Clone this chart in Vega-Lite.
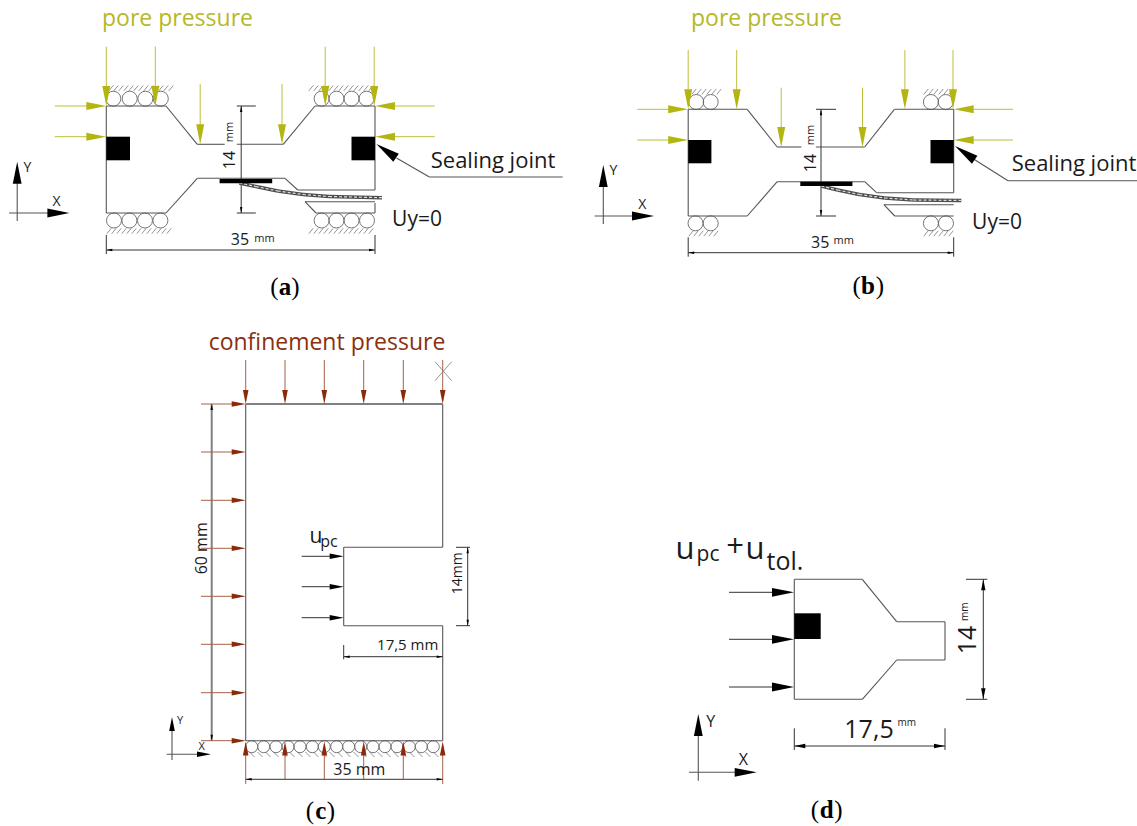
{"$schema":"https://vega.github.io/schema/vega-lite/v6.json","width":1137,"height":826,"padding":0,"autosize":"none","background":"white","view":{"stroke":null},
"datasets":{
"seg":[
{"x":106.3,"y":106,"x2":166,"y2":106,"k":"o"},{"x":166,"y":106,"x2":197.3,"y2":144.3,"k":"o"},{"x":197.3,"y":144.3,"x2":224.7,"y2":144.3,"k":"o"},{"x":236.8,"y":144.3,"x2":283.2,"y2":144.3,"k":"o"},{"x":283.2,"y":144.3,"x2":315,"y2":106,"k":"o"},{"x":315,"y":106,"x2":375,"y2":106,"k":"o"},{"x":375,"y":106,"x2":375,"y2":190,"k":"o"},{"x":375,"y":190,"x2":297.8,"y2":190,"k":"o"},{"x":297.8,"y":190,"x2":285,"y2":178.3,"k":"o"},{"x":285,"y":178.3,"x2":197.3,"y2":178.3,"k":"o"},{"x":197.3,"y":178.3,"x2":166,"y2":213,"k":"o"},{"x":166,"y":213,"x2":106.3,"y2":213,"k":"o"},{"x":106.3,"y":213,"x2":106.3,"y2":106,"k":"o"},{"x":305,"y":201.7,"x2":375,"y2":201.7,"k":"o"},{"x":305,"y":201.7,"x2":316,"y2":213,"k":"o"},{"x":316,"y":213,"x2":375,"y2":213,"k":"o"},{"x":375,"y":203,"x2":375,"y2":213,"k":"o"},
{"x":688.2,"y":109.3,"x2":747.2,"y2":109.3,"k":"o"},{"x":747.2,"y":109.3,"x2":777.2,"y2":147,"k":"o"},{"x":777.2,"y":147,"x2":801.4,"y2":147,"k":"o"},{"x":815.9,"y":147,"x2":864.7,"y2":147,"k":"o"},{"x":864.7,"y":147,"x2":894.4,"y2":109.3,"k":"o"},{"x":894.4,"y":109.3,"x2":953.7,"y2":109.3,"k":"o"},{"x":953.7,"y":109.3,"x2":953.7,"y2":192.7,"k":"o"},{"x":953.7,"y":192.7,"x2":876.6,"y2":192.7,"k":"o"},{"x":876.6,"y":192.7,"x2":864.7,"y2":181.7,"k":"o"},{"x":864.7,"y":181.7,"x2":777.2,"y2":181.7,"k":"o"},{"x":777.2,"y":181.7,"x2":747.2,"y2":216,"k":"o"},{"x":747.2,"y":216,"x2":688.2,"y2":216,"k":"o"},{"x":688.2,"y":216,"x2":688.2,"y2":109.3,"k":"o"},{"x":883.9,"y":204.7,"x2":953.7,"y2":204.7,"k":"o"},{"x":883.9,"y":204.7,"x2":894.7,"y2":216,"k":"o"},{"x":894.7,"y":216,"x2":953.7,"y2":216,"k":"o"},
{"x":245.7,"y":404,"x2":442.7,"y2":404,"k":"g"},{"x":442.7,"y":404,"x2":442.7,"y2":547.3,"k":"o"},{"x":442.7,"y":547.3,"x2":343.7,"y2":547.3,"k":"o"},{"x":343.7,"y":547.3,"x2":343.7,"y2":625.7,"k":"o"},{"x":343.7,"y":625.7,"x2":442.7,"y2":625.7,"k":"o"},{"x":442.7,"y":625.7,"x2":442.7,"y2":740.7,"k":"o"},{"x":442.7,"y":740.7,"x2":245.7,"y2":740.7,"k":"o"},{"x":245.7,"y":740.7,"x2":245.7,"y2":404,"k":"o"},
{"x":794.3,"y":579.3,"x2":862.3,"y2":579.3,"k":"o"},{"x":862.3,"y":579.3,"x2":896.7,"y2":621.7,"k":"o"},{"x":896.7,"y":621.7,"x2":945,"y2":621.7,"k":"o"},{"x":945,"y":621.7,"x2":945,"y2":660,"k":"o"},{"x":945,"y":660,"x2":896.7,"y2":660,"k":"o"},{"x":896.7,"y":660,"x2":862.3,"y2":699.3,"k":"o"},{"x":862.3,"y":699.3,"x2":794.3,"y2":699.3,"k":"o"},{"x":794.3,"y":699.3,"x2":794.3,"y2":579.3,"k":"o"},
{"x":106.3,"y":46.7,"x2":106.3,"y2":90,"k":"y"},{"x":155.3,"y":46.7,"x2":155.3,"y2":90,"k":"y"},{"x":325.2,"y":46.7,"x2":325.2,"y2":90,"k":"y"},{"x":374.2,"y":46.7,"x2":374.2,"y2":90,"k":"y"},{"x":200.2,"y":84,"x2":200.2,"y2":130,"k":"y"},{"x":282,"y":84,"x2":282,"y2":130,"k":"y"},{"x":54.8,"y":106,"x2":90,"y2":106,"k":"y"},{"x":54.8,"y":136.7,"x2":90,"y2":136.7,"k":"y"},{"x":434.8,"y":106,"x2":392,"y2":106,"k":"y"},{"x":434.8,"y":136.7,"x2":392,"y2":136.7,"k":"y"},
{"x":688.2,"y":50,"x2":688.2,"y2":93,"k":"y"},{"x":736.7,"y":50,"x2":736.7,"y2":93,"k":"y"},{"x":904.9,"y":50,"x2":904.9,"y2":93,"k":"y"},{"x":953,"y":50,"x2":953,"y2":93,"k":"y"},{"x":781.2,"y":87.7,"x2":781.2,"y2":130,"k":"y"},{"x":862.5,"y":87.7,"x2":862.5,"y2":130,"k":"y"},{"x":637.3,"y":109.3,"x2":672,"y2":109.3,"k":"y"},{"x":637.3,"y":140,"x2":672,"y2":140,"k":"y"},{"x":1013,"y":109.3,"x2":970,"y2":109.3,"k":"y"},{"x":1013,"y":140,"x2":970,"y2":140,"k":"y"},
{"x":245.7,"y":360,"x2":245.7,"y2":392,"k":"r"},{"x":285,"y":360,"x2":285,"y2":392,"k":"r"},{"x":324.3,"y":360,"x2":324.3,"y2":392,"k":"r"},{"x":363.7,"y":360,"x2":363.7,"y2":392,"k":"r"},{"x":403.3,"y":360,"x2":403.3,"y2":392,"k":"r"},{"x":442.7,"y":360,"x2":442.7,"y2":392,"k":"r"},
{"x":201,"y":404,"x2":234,"y2":404,"k":"r"},{"x":201,"y":452,"x2":234,"y2":452,"k":"r"},{"x":201,"y":500.3,"x2":234,"y2":500.3,"k":"r"},{"x":201,"y":548.3,"x2":234,"y2":548.3,"k":"r"},{"x":201,"y":596.3,"x2":234,"y2":596.3,"k":"r"},{"x":201,"y":644.3,"x2":234,"y2":644.3,"k":"r"},{"x":201,"y":692.7,"x2":234,"y2":692.7,"k":"r"},{"x":201,"y":740.7,"x2":234,"y2":740.7,"k":"r"},
{"x":245.7,"y":755,"x2":245.7,"y2":784,"k":"r"},{"x":285,"y":755,"x2":285,"y2":779,"k":"r"},{"x":324.3,"y":755,"x2":324.3,"y2":779,"k":"r"},{"x":363.7,"y":755,"x2":363.7,"y2":779,"k":"r"},{"x":403.3,"y":755,"x2":403.3,"y2":779,"k":"r"},{"x":442.7,"y":755,"x2":442.7,"y2":784,"k":"r"},
{"x":435,"y":361.7,"x2":451.7,"y2":380.7,"k":"x"},{"x":451.7,"y":361.7,"x2":435,"y2":380.7,"k":"x"},
{"x":241.2,"y":106,"x2":241.2,"y2":213,"k":"d"},{"x":236.8,"y":106,"x2":255.8,"y2":106,"k":"d"},{"x":236.8,"y":213,"x2":255.8,"y2":213,"k":"d"},
{"x":106.3,"y":250,"x2":375,"y2":250,"k":"d"},{"x":106.3,"y":235,"x2":106.3,"y2":254,"k":"d"},{"x":375,"y":235,"x2":375,"y2":254,"k":"d"},
{"x":821,"y":109.3,"x2":821,"y2":216,"k":"d"},{"x":816,"y":109.3,"x2":836,"y2":109.3,"k":"d"},{"x":816,"y":216,"x2":836,"y2":216,"k":"d"},
{"x":688.2,"y":252.7,"x2":953.7,"y2":252.7,"k":"d"},{"x":688.2,"y":237.3,"x2":688.2,"y2":256.7,"k":"d"},{"x":953.7,"y":237.3,"x2":953.7,"y2":256.7,"k":"d"},
{"x":211.7,"y":404,"x2":211.7,"y2":740.7,"k":"g"},{"x":245.7,"y":779.3,"x2":442.7,"y2":779.3,"k":"d"},
{"x":467.7,"y":547.3,"x2":467.7,"y2":625.7,"k":"d"},{"x":456,"y":547.3,"x2":470,"y2":547.3,"k":"d"},{"x":456,"y":625.7,"x2":470,"y2":625.7,"k":"d"},
{"x":343.7,"y":656.7,"x2":442.7,"y2":656.7,"k":"d"},{"x":343.7,"y":645,"x2":343.7,"y2":659.3,"k":"d"},
{"x":301.7,"y":556.3,"x2":330,"y2":556.3,"k":"d"},{"x":301.7,"y":586.7,"x2":330,"y2":586.7,"k":"d"},{"x":301.7,"y":617.7,"x2":330,"y2":617.7,"k":"d"},
{"x":729,"y":592.3,"x2":775,"y2":592.3,"k":"d"},{"x":729,"y":639.3,"x2":775,"y2":639.3,"k":"d"},{"x":729,"y":687,"x2":775,"y2":687,"k":"d"},
{"x":983.3,"y":579.3,"x2":983.3,"y2":699.3,"k":"d"},{"x":966,"y":579.3,"x2":987.3,"y2":579.3,"k":"d"},{"x":966,"y":699.3,"x2":987.3,"y2":699.3,"k":"d"},
{"x":794.3,"y":746,"x2":945,"y2":746,"k":"d"},{"x":794.3,"y":728.3,"x2":794.3,"y2":750,"k":"d"},{"x":945,"y":728.3,"x2":945,"y2":750,"k":"d"},
{"x":17.2,"y":175,"x2":17.2,"y2":221,"k":"o"},{"x":9,"y":213,"x2":55,"y2":213,"k":"o"},
{"x":603.3,"y":178,"x2":603.3,"y2":224,"k":"o"},{"x":594.6,"y":216,"x2":640,"y2":216,"k":"o"},
{"x":172,"y":725,"x2":172,"y2":760,"k":"o"},{"x":166.7,"y":754.3,"x2":200,"y2":754.3,"k":"o"},
{"x":698.3,"y":730,"x2":698.3,"y2":780.7,"k":"o"},{"x":689,"y":772.3,"x2":740,"y2":772.3,"k":"o"},
{"x":396.5,"y":158,"x2":429.4,"y2":177,"k":"o"},{"x":429.4,"y":177,"x2":562.7,"y2":177,"k":"o"},
{"x":972,"y":158,"x2":1008,"y2":180.7,"k":"o"},{"x":1008,"y":180.7,"x2":1137,"y2":180.7,"k":"o"}
],
"strip":[
{"x":239.3,"y":183,"x2":255.8,"y2":186.5},{"x":255.8,"y":186.5,"x2":277.7,"y2":191},{"x":277.7,"y":191,"x2":303,"y2":194.5},{"x":303,"y":194.5,"x2":329,"y2":196.5},{"x":329,"y":196.5,"x2":382,"y2":197.7},
{"x":821.3,"y":186,"x2":837.6,"y2":190},{"x":837.6,"y":190,"x2":859.3,"y2":194.5},{"x":859.3,"y":194.5,"x2":884.6,"y2":198},{"x":884.6,"y":198,"x2":913.5,"y2":200},{"x":913.5,"y":200,"x2":961.3,"y2":200.5}
],
"blocks":[
{"x":106.3,"y":136.7,"x2":130,"y2":160.3},{"x":351.5,"y":136.7,"x2":375,"y2":160.3},{"x":219.6,"y":179,"x2":272.2,"y2":183.3},
{"x":688.2,"y":140,"x2":711.4,"y2":163.3},{"x":930.5,"y":140,"x2":953.7,"y2":163.3},{"x":800.3,"y":181.7,"x2":852.4,"y2":186},
{"x":794.3,"y":613.3,"x2":820.7,"y2":639}
],
"circles":[
{"x":113.3,"y":98.7,"k":"l"},{"x":129.7,"y":98.7,"k":"l"},{"x":145.4,"y":98.7,"k":"l"},{"x":160.8,"y":98.7,"k":"l"},{"x":321.6,"y":98.7,"k":"l"},{"x":336.5,"y":98.7,"k":"l"},{"x":351.5,"y":98.7,"k":"l"},{"x":366.5,"y":98.7,"k":"l"},
{"x":114,"y":220.5,"k":"l"},{"x":129.4,"y":220.5,"k":"l"},{"x":145,"y":220.5,"k":"l"},{"x":160.4,"y":220.5,"k":"l"},{"x":321.6,"y":220.5,"k":"l"},{"x":336.5,"y":220.5,"k":"l"},{"x":351.5,"y":220.5,"k":"l"},{"x":367,"y":220.5,"k":"l"},
{"x":696.2,"y":102,"k":"l"},{"x":710.7,"y":102,"k":"l"},{"x":930.9,"y":102,"k":"l"},{"x":945.7,"y":102,"k":"l"},{"x":695.5,"y":223.3,"k":"l"},{"x":710.7,"y":223.3,"k":"l"},{"x":930.9,"y":223.3,"k":"l"},{"x":946,"y":223.3,"k":"l"},
{"x":251.7,"y":746.7,"k":"s"},{"x":263.7,"y":746.7,"k":"s"},{"x":276,"y":746.7,"k":"s"},{"x":288,"y":746.7,"k":"s"},{"x":300,"y":746.7,"k":"s"},{"x":312.3,"y":746.7,"k":"s"},{"x":324.3,"y":746.7,"k":"s"},{"x":336.7,"y":746.7,"k":"s"},{"x":348.7,"y":746.7,"k":"s"},{"x":360.7,"y":746.7,"k":"s"},{"x":373,"y":746.7,"k":"s"},{"x":385,"y":746.7,"k":"s"},{"x":397,"y":746.7,"k":"s"},{"x":409.3,"y":746.7,"k":"s"},{"x":421.3,"y":746.7,"k":"s"},{"x":433.3,"y":746.7,"k":"s"}
],
"hatchA":[
{"x":111,"y":88.2},{"x":116,"y":88.2},{"x":121,"y":88.2},{"x":126,"y":88.2},{"x":131,"y":88.2},{"x":136,"y":88.2},{"x":141,"y":88.2},{"x":146,"y":88.2},{"x":151,"y":88.2},{"x":156,"y":88.2},{"x":161,"y":88.2},{"x":166,"y":88.2},{"x":171,"y":88.2},
{"x":311,"y":88.2},{"x":316,"y":88.2},{"x":321,"y":88.2},{"x":326,"y":88.2},{"x":331,"y":88.2},{"x":336,"y":88.2},{"x":341,"y":88.2},{"x":346,"y":88.2},{"x":351,"y":88.2},{"x":356,"y":88.2},{"x":361,"y":88.2},{"x":366,"y":88.2},{"x":371,"y":88.2},
{"x":109,"y":231},{"x":114,"y":231},{"x":119,"y":231},{"x":124,"y":231},{"x":129,"y":231},{"x":134,"y":231},{"x":139,"y":231},{"x":144,"y":231},{"x":149,"y":231},{"x":154,"y":231},{"x":159,"y":231},{"x":164,"y":231},{"x":169,"y":231},
{"x":311,"y":231},{"x":316,"y":231},{"x":321,"y":231},{"x":326,"y":231},{"x":331,"y":231},{"x":336,"y":231},{"x":341,"y":231},{"x":346,"y":231},{"x":351,"y":231},{"x":356,"y":231},{"x":361,"y":231},{"x":366,"y":231},{"x":371,"y":231},
{"x":694,"y":91.7},{"x":699,"y":91.7},{"x":704,"y":91.7},{"x":709,"y":91.7},{"x":714,"y":91.7},{"x":719,"y":91.7},{"x":926,"y":91.7},{"x":931,"y":91.7},{"x":936,"y":91.7},{"x":941,"y":91.7},{"x":946,"y":91.7},{"x":951,"y":91.7},
{"x":691,"y":233.5},{"x":696,"y":233.5},{"x":701,"y":233.5},{"x":706,"y":233.5},{"x":711,"y":233.5},{"x":716,"y":233.5},{"x":926,"y":233.5},{"x":931,"y":233.5},{"x":936,"y":233.5},{"x":941,"y":233.5},{"x":946,"y":233.5},{"x":951,"y":233.5}
],
"hatchC":[
{"x":252,"y":754.5},{"x":260,"y":754.5},{"x":268,"y":754.5},{"x":276,"y":754.5},{"x":284,"y":754.5},{"x":292,"y":754.5},{"x":300,"y":754.5},{"x":308,"y":754.5},{"x":316,"y":754.5},{"x":324,"y":754.5},{"x":332,"y":754.5},{"x":340,"y":754.5},{"x":348,"y":754.5},{"x":356,"y":754.5},{"x":364,"y":754.5},{"x":372,"y":754.5},{"x":380,"y":754.5},{"x":388,"y":754.5},{"x":396,"y":754.5},{"x":404,"y":754.5},{"x":412,"y":754.5},{"x":420,"y":754.5},{"x":428,"y":754.5},{"x":436,"y":754.5}
],
"arrows":[
{"x":106.3,"y":106,"a":0,"k":"y"},{"x":155.3,"y":106,"a":0,"k":"y"},{"x":325.2,"y":106,"a":0,"k":"y"},{"x":374.2,"y":106,"a":0,"k":"y"},{"x":200.2,"y":144.3,"a":0,"k":"y"},{"x":282,"y":144.3,"a":0,"k":"y"},{"x":106.3,"y":106,"a":270,"k":"y"},{"x":106.3,"y":136.7,"a":270,"k":"y"},{"x":375,"y":106,"a":90,"k":"y"},{"x":375,"y":136.7,"a":90,"k":"y"},
{"x":688.2,"y":109.3,"a":0,"k":"y"},{"x":736.7,"y":109.3,"a":0,"k":"y"},{"x":904.9,"y":109.3,"a":0,"k":"y"},{"x":953,"y":109.3,"a":0,"k":"y"},{"x":781.2,"y":147,"a":0,"k":"y"},{"x":862.5,"y":147,"a":0,"k":"y"},{"x":688.2,"y":109.3,"a":270,"k":"y"},{"x":688.2,"y":140,"a":270,"k":"y"},{"x":953.7,"y":109.3,"a":90,"k":"y"},{"x":953.7,"y":140,"a":90,"k":"y"},
{"x":245.7,"y":404,"a":0,"k":"r"},{"x":285,"y":404,"a":0,"k":"r"},{"x":324.3,"y":404,"a":0,"k":"r"},{"x":363.7,"y":404,"a":0,"k":"r"},{"x":403.3,"y":404,"a":0,"k":"r"},{"x":442.7,"y":404,"a":0,"k":"r"},
{"x":245.7,"y":404,"a":270,"k":"r"},{"x":245.7,"y":452,"a":270,"k":"r"},{"x":245.7,"y":500.3,"a":270,"k":"r"},{"x":245.7,"y":548.3,"a":270,"k":"r"},{"x":245.7,"y":596.3,"a":270,"k":"r"},{"x":245.7,"y":644.3,"a":270,"k":"r"},{"x":245.7,"y":692.7,"a":270,"k":"r"},{"x":245.7,"y":740.7,"a":270,"k":"r"},
{"x":245.7,"y":741.5,"a":180,"k":"r"},{"x":285,"y":741.5,"a":180,"k":"r"},{"x":324.3,"y":741.5,"a":180,"k":"r"},{"x":363.7,"y":741.5,"a":180,"k":"r"},{"x":403.3,"y":741.5,"a":180,"k":"r"},{"x":442.7,"y":741.5,"a":180,"k":"r"},
{"x":343.7,"y":556.3,"a":270,"k":"c"},{"x":343.7,"y":586.7,"a":270,"k":"c"},{"x":343.7,"y":617.7,"a":270,"k":"c"},
{"x":794,"y":592.3,"a":270,"k":"ax"},{"x":794,"y":639.3,"a":270,"k":"ax"},{"x":794,"y":687,"a":270,"k":"ax"},
{"x":17.2,"y":161.7,"a":180,"k":"ax"},{"x":69.4,"y":213,"a":270,"k":"ax"},{"x":603.3,"y":165,"a":180,"k":"ax"},{"x":654,"y":216,"a":270,"k":"ax"},
{"x":172,"y":717,"a":180,"k":"c"},{"x":211,"y":754.3,"a":270,"k":"c"},{"x":698.3,"y":714,"a":180,"k":"ax"},{"x":756.7,"y":772.3,"a":270,"k":"ax"},
{"x":376.4,"y":144,"a":125,"k":"j"},{"x":955,"y":146,"a":125,"k":"j"},
{"x":241.2,"y":106,"a":180,"k":"s"},{"x":241.2,"y":213,"a":0,"k":"s"},{"x":106.3,"y":250,"a":90,"k":"s"},{"x":375,"y":250,"a":270,"k":"s"},
{"x":821,"y":109.3,"a":180,"k":"s"},{"x":821,"y":216,"a":0,"k":"s"},{"x":688.2,"y":252.7,"a":90,"k":"s"},{"x":953.7,"y":252.7,"a":270,"k":"s"},
{"x":211.7,"y":404,"a":180,"k":"s"},{"x":211.7,"y":740.7,"a":0,"k":"s"},{"x":245.7,"y":779.3,"a":90,"k":"s"},{"x":442.7,"y":779.3,"a":270,"k":"s"},
{"x":467.7,"y":547.3,"a":180,"k":"s"},{"x":467.7,"y":625.7,"a":0,"k":"s"},{"x":343.7,"y":656.7,"a":90,"k":"s"},{"x":442.7,"y":656.7,"a":270,"k":"s"},
{"x":983.3,"y":579.3,"a":180,"k":"m"},{"x":983.3,"y":699.3,"a":0,"k":"m"},{"x":794.3,"y":746,"a":90,"k":"m"},{"x":945,"y":746,"a":270,"k":"m"}
],
"texts":[
{"t":"Sealing joint","x":493,"y":161,"a":0,"k":"t22"},{"t":"Uy=0","x":417,"y":220,"a":0,"k":"t21"},{"t":"35","x":240,"y":239.5,"a":0,"k":"t15"},{"t":"mm","x":264.5,"y":239,"a":0,"k":"t11"},{"t":"14","x":230,"y":160,"a":270,"k":"t15"},{"t":"mm","x":230,"y":132,"a":270,"k":"t11"},
{"t":"Sealing joint","x":1074,"y":164,"a":0,"k":"t22"},{"t":"Uy=0","x":997,"y":223,"a":0,"k":"t21"},{"t":"35","x":820.2,"y":242.7,"a":0,"k":"t15"},{"t":"mm","x":843.7,"y":241,"a":0,"k":"t11"},{"t":"14","x":810.5,"y":163,"a":270,"k":"t15"},{"t":"mm","x":810.5,"y":135,"a":270,"k":"t11"},
{"t":"Y","x":27.4,"y":168.3,"a":0,"k":"t14"},{"t":"X","x":56.6,"y":201.7,"a":0,"k":"t14"},{"t":"Y","x":613.4,"y":171,"a":0,"k":"t14"},{"t":"X","x":642.4,"y":205,"a":0,"k":"t14"},
{"t":"60 mm","x":201.7,"y":548.3,"a":270,"k":"t15"},{"t":"35 mm","x":359.3,"y":770,"a":0,"k":"t15"},{"t":"14mm","x":458.3,"y":573.3,"a":270,"k":"t14"},{"t":"17,5 mm","x":407.7,"y":645,"a":0,"k":"t16"},
{"t":"u","x":316,"y":536.7,"a":0,"k":"t21"},{"t":"pc","x":329,"y":541.7,"a":0,"k":"t15"},{"t":"Y","x":180,"y":720.7,"a":0,"k":"t11"},{"t":"X","x":201.7,"y":746.7,"a":0,"k":"t11"},
{"t":"u","x":685,"y":550,"a":0,"k":"t32"},{"t":"pc","x":708,"y":555,"a":0,"k":"t21"},{"t":"+","x":735,"y":548,"a":0,"k":"t32"},{"t":"u","x":755,"y":550,"a":0,"k":"t32"},{"t":"tol.","x":785,"y":561.7,"a":0,"k":"t24"},
{"t":"17,5","x":869,"y":730,"a":0,"k":"t24"},{"t":"mm","x":906.7,"y":722.7,"a":0,"k":"t10"},{"t":"14","x":968.3,"y":640,"a":270,"k":"t24"},{"t":"mm","x":965,"y":611.7,"a":270,"k":"t10"},{"t":"Y","x":710.7,"y":721.7,"a":0,"k":"t15"},{"t":"X","x":743.3,"y":760,"a":0,"k":"t15"}
],
"pore":[{"t":"pore pressure","x":177.5,"y":19.3},{"t":"pore pressure","x":766.5,"y":19}],
"conf":[{"t":"confinement pressure","x":327,"y":343.3}],
"parens":[{"t":"(","x":274.5,"y":287},{"t":")","x":295.5,"y":287},{"t":"(","x":856.6,"y":286},{"t":")","x":880,"y":286},{"t":"(","x":310,"y":810.7},{"t":")","x":331,"y":810.7},{"t":"(","x":815,"y":810},{"t":")","x":838.5,"y":810}],
"letters":[{"t":"a","x":285,"y":287},{"t":"b","x":868,"y":286},{"t":"c","x":320.7,"y":810.7},{"t":"d","x":826.7,"y":810}]
},
"encoding":{
"x":{"field":"x","type":"quantitative","axis":null,"scale":{"domain":[0,1137],"nice":false,"zero":false}},
"y":{"field":"y","type":"quantitative","axis":null,"scale":{"domain":[826,0],"nice":false,"zero":false}}
},
"layer":[
{"data":{"name":"hatchA"},"mark":{"type":"point","shape":"M-2.2,2.7L2.2,-2.7","size":4,"filled":false,"stroke":"#666666","strokeWidth":0.7,"opacity":1}},
{"data":{"name":"hatchC"},"mark":{"type":"point","shape":"M-2.5,-2.5L2.5,2.5","size":4,"filled":false,"stroke":"#666666","strokeWidth":0.7,"opacity":1}},
{"data":{"name":"circles"},"transform":[{"filter":{"field":"k","equal":"l"}}],"mark":{"type":"point","shape":"circle","filled":false,"stroke":"#666666","strokeWidth":0.9,"opacity":1,"size":225}},
{"data":{"name":"circles"},"transform":[{"filter":{"field":"k","equal":"s"}}],"mark":{"type":"point","shape":"circle","filled":false,"stroke":"#666666","strokeWidth":0.9,"opacity":1,"size":144}},
{"data":{"name":"seg"},"transform":[{"filter":{"field":"k","equal":"o"}}],"mark":{"type":"rule","stroke":"#555555","strokeWidth":1.1},"encoding":{"x2":{"field":"x2"},"y2":{"field":"y2"}}},
{"data":{"name":"seg"},"transform":[{"filter":{"field":"k","equal":"g"}}],"mark":{"type":"rule","stroke":"#808080","strokeWidth":2},"encoding":{"x2":{"field":"x2"},"y2":{"field":"y2"}}},
{"data":{"name":"seg"},"transform":[{"filter":{"field":"k","equal":"y"}}],"mark":{"type":"rule","stroke":"#bcbf3a","strokeWidth":1},"encoding":{"x2":{"field":"x2"},"y2":{"field":"y2"}}},
{"data":{"name":"seg"},"transform":[{"filter":{"field":"k","equal":"r"}}],"mark":{"type":"rule","stroke":"#a5604a","strokeWidth":1},"encoding":{"x2":{"field":"x2"},"y2":{"field":"y2"}}},
{"data":{"name":"seg"},"transform":[{"filter":{"field":"k","equal":"d"}}],"mark":{"type":"rule","stroke":"#333333","strokeWidth":1},"encoding":{"x2":{"field":"x2"},"y2":{"field":"y2"}}},
{"data":{"name":"seg"},"transform":[{"filter":{"field":"k","equal":"x"}}],"mark":{"type":"rule","stroke":"#777777","strokeWidth":0.8},"encoding":{"x2":{"field":"x2"},"y2":{"field":"y2"}}},
{"data":{"name":"strip"},"mark":{"type":"rule","stroke":"#4d4d4d","strokeWidth":3.4},"encoding":{"x2":{"field":"x2"},"y2":{"field":"y2"}}},
{"data":{"name":"strip"},"mark":{"type":"rule","stroke":"#dddddd","strokeWidth":1.2,"strokeDash":[3,2]},"encoding":{"x2":{"field":"x2"},"y2":{"field":"y2"}}},
{"data":{"name":"blocks"},"mark":{"type":"rect","fill":"#000000"},"encoding":{"x2":{"field":"x2"},"y2":{"field":"y2"}}},
{"data":{"name":"arrows"},"transform":[{"filter":{"field":"k","equal":"y"}}],"mark":{"type":"point","shape":"M0,0L-0.2,-1L0.2,-1Z","filled":true,"opacity":1,"fill":"#b3b612","size":1600},"encoding":{"angle":{"field":"a","type":"quantitative","scale":null}}},
{"data":{"name":"arrows"},"transform":[{"filter":{"field":"k","equal":"r"}}],"mark":{"type":"point","shape":"M0,0L-0.2,-1L0.2,-1Z","filled":true,"opacity":1,"fill":"#8a2a08","size":784},"encoding":{"angle":{"field":"a","type":"quantitative","scale":null}}},
{"data":{"name":"arrows"},"transform":[{"filter":{"field":"k","equal":"c"}}],"mark":{"type":"point","shape":"M0,0L-0.2,-1L0.2,-1Z","filled":true,"opacity":1,"fill":"#000000","size":784},"encoding":{"angle":{"field":"a","type":"quantitative","scale":null}}},
{"data":{"name":"arrows"},"transform":[{"filter":{"field":"k","equal":"ax"}}],"mark":{"type":"point","shape":"M0,0L-0.2,-1L0.2,-1Z","filled":true,"opacity":1,"fill":"#000000","size":1936},"encoding":{"angle":{"field":"a","type":"quantitative","scale":null}}},
{"data":{"name":"arrows"},"transform":[{"filter":{"field":"k","equal":"j"}}],"mark":{"type":"point","shape":"M0,0L-0.2,-1L0.2,-1Z","filled":true,"opacity":1,"fill":"#000000","size":2304},"encoding":{"angle":{"field":"a","type":"quantitative","scale":null}}},
{"data":{"name":"arrows"},"transform":[{"filter":{"field":"k","equal":"s"}}],"mark":{"type":"point","shape":"M0,0L-0.2,-1L0.2,-1Z","filled":true,"opacity":1,"fill":"#000000","size":144},"encoding":{"angle":{"field":"a","type":"quantitative","scale":null}}},
{"data":{"name":"arrows"},"transform":[{"filter":{"field":"k","equal":"m"}}],"mark":{"type":"point","shape":"M0,0L-0.2,-1L0.2,-1Z","filled":true,"opacity":1,"fill":"#000000","size":484},"encoding":{"angle":{"field":"a","type":"quantitative","scale":null}}},
{"data":{"name":"texts"},"transform":[{"filter":{"field":"k","equal":"t10"}}],"mark":{"type":"text","font":"Open Sans","color":"#1a1a1a","align":"center","baseline":"middle","fontSize":10},"encoding":{"text":{"field":"t"},"angle":{"field":"a","type":"quantitative","scale":null}}},
{"data":{"name":"texts"},"transform":[{"filter":{"field":"k","equal":"t11"}}],"mark":{"type":"text","font":"Open Sans","color":"#1a1a1a","align":"center","baseline":"middle","fontSize":11},"encoding":{"text":{"field":"t"},"angle":{"field":"a","type":"quantitative","scale":null}}},
{"data":{"name":"texts"},"transform":[{"filter":{"field":"k","equal":"t14"}}],"mark":{"type":"text","font":"Open Sans","color":"#1a1a1a","align":"center","baseline":"middle","fontSize":14},"encoding":{"text":{"field":"t"},"angle":{"field":"a","type":"quantitative","scale":null}}},
{"data":{"name":"texts"},"transform":[{"filter":{"field":"k","equal":"t15"}}],"mark":{"type":"text","font":"Open Sans","color":"#1a1a1a","align":"center","baseline":"middle","fontSize":16},"encoding":{"text":{"field":"t"},"angle":{"field":"a","type":"quantitative","scale":null}}},
{"data":{"name":"texts"},"transform":[{"filter":{"field":"k","equal":"t16"}}],"mark":{"type":"text","font":"Open Sans","color":"#1a1a1a","align":"center","baseline":"middle","fontSize":15},"encoding":{"text":{"field":"t"},"angle":{"field":"a","type":"quantitative","scale":null}}},
{"data":{"name":"texts"},"transform":[{"filter":{"field":"k","equal":"t21"}}],"mark":{"type":"text","font":"Open Sans","color":"#1a1a1a","align":"center","baseline":"middle","fontSize":21},"encoding":{"text":{"field":"t"},"angle":{"field":"a","type":"quantitative","scale":null}}},
{"data":{"name":"texts"},"transform":[{"filter":{"field":"k","equal":"t22"}}],"mark":{"type":"text","font":"Open Sans","color":"#1a1a1a","align":"center","baseline":"middle","fontSize":22},"encoding":{"text":{"field":"t"},"angle":{"field":"a","type":"quantitative","scale":null}}},
{"data":{"name":"texts"},"transform":[{"filter":{"field":"k","equal":"t24"}}],"mark":{"type":"text","font":"Open Sans","color":"#1a1a1a","align":"center","baseline":"middle","fontSize":25},"encoding":{"text":{"field":"t"},"angle":{"field":"a","type":"quantitative","scale":null}}},
{"data":{"name":"texts"},"transform":[{"filter":{"field":"k","equal":"t32"}}],"mark":{"type":"text","font":"Open Sans","color":"#1a1a1a","align":"center","baseline":"middle","fontSize":31},"encoding":{"text":{"field":"t"},"angle":{"field":"a","type":"quantitative","scale":null}}},
{"data":{"name":"pore"},"mark":{"type":"text","font":"Open Sans","color":"#b5b82a","fontSize":23,"align":"center","baseline":"middle"},"encoding":{"text":{"field":"t"}}},
{"data":{"name":"conf"},"mark":{"type":"text","font":"Open Sans","color":"#8a3010","fontSize":23,"align":"center","baseline":"middle"},"encoding":{"text":{"field":"t"}}},
{"data":{"name":"parens"},"mark":{"type":"text","font":"Liberation Serif","color":"#000000","fontSize":25,"align":"center","baseline":"middle"},"encoding":{"text":{"field":"t"}}},
{"data":{"name":"letters"},"mark":{"type":"text","font":"Liberation Serif","fontWeight":"bold","color":"#000000","fontSize":25,"align":"center","baseline":"middle"},"encoding":{"text":{"field":"t"}}}
]
}
